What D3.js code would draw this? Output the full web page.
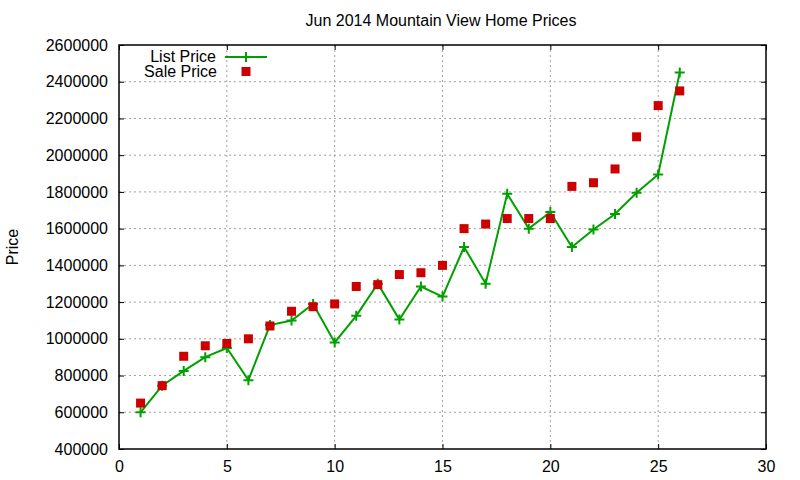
<!DOCTYPE html>
<html>
<head>
<meta charset="utf-8">
<script src="https://cdn.jsdelivr.net/npm/d3@7"></script>
<style>
  body { margin: 0; background: #fff; }
  svg text { font-family: "Liberation Sans", Arial, sans-serif; fill: #000; }
</style>
</head>
<body>
<div id="chart"></div>
<script>
var months = [1, 2, 3, 4, 5, 6, 7, 8, 9, 10, 11, 12, 13, 14, 15, 16, 17, 18, 19, 20, 21, 22, 23, 24, 25, 26];
var list_price = [600000, 745000, 825000, 900000, 950000, 775000, 1075000, 1100000, 1190000, 980000,
    1125000, 1300000, 1105000, 1285000, 1230000, 1500000, 1300000, 1790000, 1600000, 1690000,
    1500000, 1595000, 1680000, 1795000, 1895000, 2450000];
var sale_price = [650000, 745000, 905000, 962000, 975000, 1000000, 1070000, 1150000, 1175000, 1190000,
    1285000, 1295000, 1350000, 1360000, 1400000, 1600000, 1625000, 1655000, 1655000, 1655000,
    1830000, 1850000, 1925000, 2100000, 2270000, 2350000];
var x_ticks = [0, 5, 10, 15, 20, 25, 30];
var y_ticks = [400000, 600000, 800000, 1000000, 1200000, 1400000, 1600000, 1800000, 2000000,
    2200000, 2400000, 2600000];
var series_names = ["List Price", "Sale Price"];

var chart_width = 800;
var chart_height = 480;
var plot_left = 119, plot_right = 766, plot_top = 45, plot_bottom = 449;
var green = "#00a000";
var red = "#cc0000";

var svg = d3.select("#chart")
    .append("svg")
    .attr("width", chart_width)
    .attr("height", chart_height);

// Scales
var x_scale = d3.scaleLinear().domain([0, 30]).range([plot_left, plot_right]);
var y_scale = d3.scaleLinear().domain([400000, 2600000]).range([plot_bottom, plot_top]);

// Grid
svg.append("g").selectAll("line")
    .data(x_ticks.slice(1, -1))
    .enter().append("line")
    .attr("x1", function(d){ return x_scale(d); })
    .attr("x2", function(d){ return x_scale(d); })
    .attr("y1", plot_top).attr("y2", plot_bottom)
    .attr("stroke", "#a0a0a0").attr("stroke-dasharray", "2,3");

svg.append("g").selectAll("line")
    .data(y_ticks.slice(1, -1))
    .enter().append("line")
    .attr("y1", function(d){ return y_scale(d); })
    .attr("y2", function(d){ return y_scale(d); })
    .attr("x1", plot_left).attr("x2", plot_right)
    .attr("stroke", "#a0a0a0").attr("stroke-dasharray", "2,3");

// Axes (ticks drawn inward, mirrored)
svg.append("g")
    .attr("transform", "translate(0," + plot_bottom + ")")
    .call(d3.axisBottom(x_scale).tickValues(x_ticks).tickSizeInner(-5).tickSizeOuter(0).tickPadding(12));
svg.append("g")
    .attr("transform", "translate(" + plot_left + ",0)")
    .call(d3.axisLeft(y_scale).tickValues(y_ticks).tickFormat(d3.format("d"))
        .tickSizeInner(-5).tickSizeOuter(0).tickPadding(11));
svg.append("g")
    .attr("transform", "translate(0," + plot_top + ")")
    .call(d3.axisTop(x_scale).tickValues(x_ticks).tickSizeInner(-5).tickSizeOuter(0).tickFormat(""));
svg.append("g")
    .attr("transform", "translate(" + plot_right + ",0)")
    .call(d3.axisRight(y_scale).tickValues(y_ticks).tickSizeInner(-5).tickSizeOuter(0).tickFormat(""));

svg.selectAll(".domain").remove();
svg.selectAll(".tick text").attr("font-size", 16).attr("font-family", "Liberation Sans, Arial, sans-serif").attr("fill", "#000");
svg.selectAll(".tick line").attr("stroke", "#000");

svg.append("rect")
    .attr("x", plot_left).attr("y", plot_top)
    .attr("width", plot_right - plot_left).attr("height", plot_bottom - plot_top)
    .attr("fill", "none").attr("stroke", "#000").attr("stroke-width", 1.5);

// List price line
var line = d3.line()
    .x(function(d, i){ return x_scale(months[i]); })
    .y(function(d){ return y_scale(d); });

svg.append("path")
    .datum(list_price)
    .attr("d", line)
    .attr("fill", "none")
    .attr("stroke", green)
    .attr("stroke-width", 2);

// Plus markers
svg.selectAll(".plus")
    .data(list_price)
    .enter().append("path")
    .attr("class", "plus")
    .attr("d", "M-5,0H5M0,-5V5")
    .attr("transform", function(d, i){ return "translate(" + x_scale(months[i]) + "," + y_scale(d) + ")"; })
    .attr("stroke", green)
    .attr("stroke-width", 2);

// Sale price squares
svg.selectAll(".sq")
    .data(sale_price)
    .enter().append("rect")
    .attr("class", "sq")
    .attr("x", function(d, i){ return x_scale(months[i]) - 4.5; })
    .attr("y", function(d){ return y_scale(d) - 4.5; })
    .attr("width", 9).attr("height", 9)
    .attr("fill", red);

// Title and axis label
svg.append("text")
    .attr("x", 441).attr("y", 26)
    .attr("text-anchor", "middle")
    .attr("font-size", 16)
    .text("Jun 2014 Mountain View Home Prices");

svg.append("text")
    .attr("transform", "translate(18,247) rotate(-90)")
    .attr("text-anchor", "middle")
    .attr("font-size", 16)
    .text("Price");

// Legend
var legend = svg.append("g");
legend.append("text")
    .attr("x", 216).attr("y", 62)
    .attr("text-anchor", "end").attr("font-size", 16)
    .text(series_names[0]);
legend.append("text")
    .attr("x", 217).attr("y", 77)
    .attr("text-anchor", "end").attr("font-size", 16)
    .text(series_names[1]);
legend.append("line")
    .attr("x1", 225).attr("x2", 267).attr("y1", 57).attr("y2", 57)
    .attr("stroke", green).attr("stroke-width", 2);
legend.append("path")
    .attr("d", "M-5,0H5M0,-5V5")
    .attr("transform", "translate(246,57)")
    .attr("stroke", green).attr("stroke-width", 2);
legend.append("rect")
    .attr("x", 241.5).attr("y", 67).attr("width", 9).attr("height", 9)
    .attr("fill", red);
</script>
</body>
</html>
